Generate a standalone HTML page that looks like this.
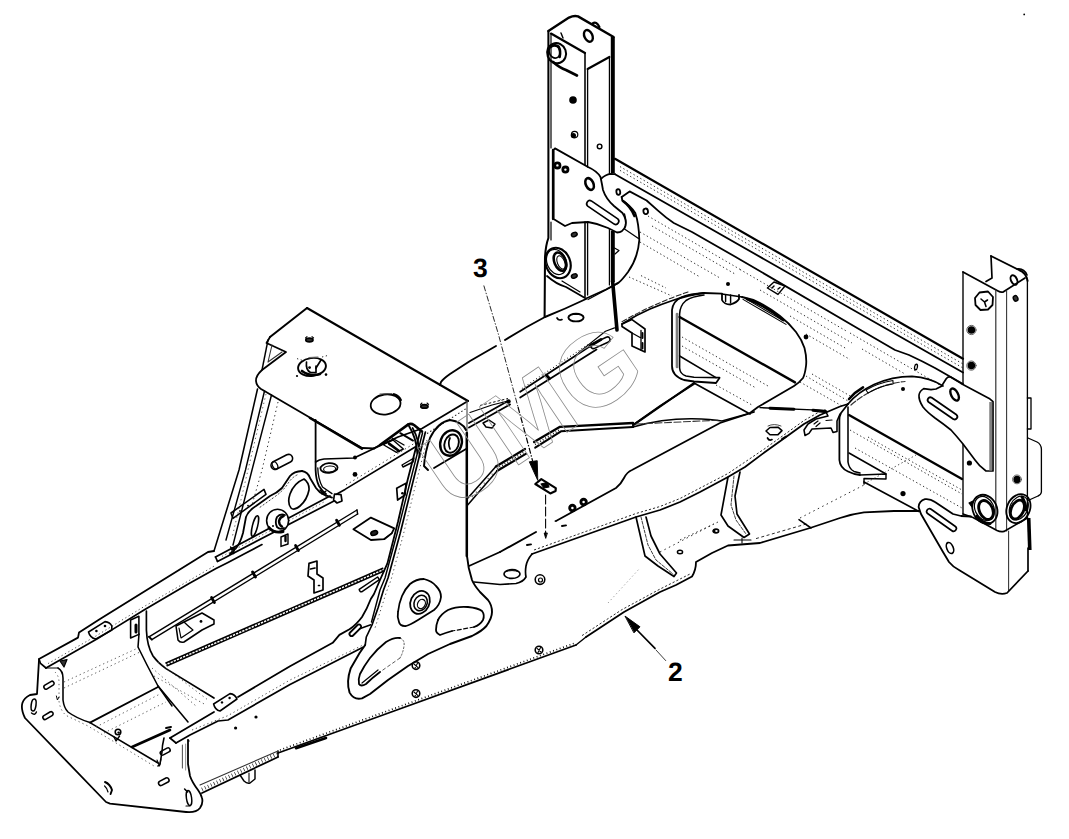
<!DOCTYPE html>
<html><head><meta charset="utf-8"><title>Frame</title>
<style>html,body{margin:0;padding:0;background:#fff;}svg{display:block;}</style></head>
<body>
<svg width="1069" height="839" viewBox="0 0 1069 839" stroke-linecap="round" stroke-linejoin="round">
<rect width="1069" height="839" fill="#fff"/>
<!-- post 1 -->
<path d="M548.4,31 L548.4,238 Q545.5,246 545,258 L544.6,317" stroke="#000" stroke-width="2.04" fill="none" />
<path d="M551,33.6 L551,148" stroke="#000" stroke-width="1.2" fill="none" />
<path d="M551,222 L551,240" stroke="#000" stroke-width="1.2" fill="none" />
<path d="M548.4,31 L569,17.6 Q574,15.2 578,16.4 L613.6,37" stroke="#000" stroke-width="2.4" fill="none" />
<path d="M612.8,37 L612.8,173" stroke="#000" stroke-width="4.0" fill="none" stroke-linecap="butt"/>
<path d="M612.8,231 L612.8,282" stroke="#000" stroke-width="4.0" fill="none" stroke-linecap="butt"/>
<path d="M609.4,57 L609.4,174" stroke="#000" stroke-width="1.2" fill="none" />
<path d="M609.4,229 L609.4,285" stroke="#000" stroke-width="1.2" fill="none" />
<path d="M551,33.6 L585,53" stroke="#000" stroke-width="2.28" fill="none" />
<path d="M585,53 L585,165" stroke="#000" stroke-width="1.56" fill="none" />
<path d="M585,222 L585,297" stroke="#000" stroke-width="1.56" fill="none" />
<path d="M587.6,69 L587.6,167" stroke="#000" stroke-width="1.32" fill="none" />
<path d="M587.6,222 L587.6,295" stroke="#000" stroke-width="1.32" fill="none" />
<path d="M587.6,69 L609.4,57" stroke="#000" stroke-width="2.16" fill="none" />
<ellipse cx="588.4" cy="35.9" rx="4.0" ry="6.2" transform="rotate(-25 588.4 35.9)" fill="none" stroke="#000" stroke-width="2.4"/>
<path d="M592.6,23.4 Q596.5,20.6 599.4,27" stroke="#000" stroke-width="2.28" fill="none" />
<ellipse cx="556.6" cy="53.2" rx="9.4" ry="10.2" transform="rotate(-20 556.6 53.2)" fill="none" stroke="#000" stroke-width="2.04"/>
<ellipse cx="554.6" cy="51.6" rx="5.4" ry="6.6" transform="rotate(-20 554.6 51.6)" fill="none" stroke="#000" stroke-width="1.68"/>
<path d="M550.6,47 Q553.6,44.4 557.6,46" stroke="#000" stroke-width="2.6" fill="none" />
<path d="M558.6,46.6 Q561,51 559.6,57" stroke="#000" stroke-width="2.64" fill="none" />
<path d="M553,62 Q560,68 566,70 L577,75.5" stroke="#000" stroke-width="2.64" fill="none" />
<path d="M561,33 L563,38" stroke="#000" stroke-width="1.44" fill="none" />
<circle cx="573" cy="100" r="3.8" fill="#000"/>
<circle cx="573.4" cy="135.6" r="2.6" fill="#000"/>
<circle cx="574.6" cy="134.6" r="3.2" fill="none" stroke="#000" stroke-width="1.2"/>
<circle cx="599.6" cy="146.4" r="2.3" fill="none" stroke="#000" stroke-width="1.44"/>
<path d="M555,148.4 L588,167 Q597,171 600.5,177 Q602,184 603,190 Q606,199 614,206 L622.5,213 Q627,220 625.5,226 Q623,232.5 617,232.5 L608,228 Q598,223.5 588,222 L572,223 L565,226 L553.6,219 L553.6,150 Z" stroke="#000" stroke-width="1.8" fill="none" />
<path d="M587.7,206.1 L614.2,224.1 A3.2,3.2 0 0 0 617.8,218.9 L591.3,200.9 A3.2,3.2 0 0 0 587.7,206.1 Z" stroke="#000" stroke-width="1.68" fill="none" />
<ellipse cx="589.6" cy="184" rx="3.8" ry="6.2" transform="rotate(-25 589.6 184)" fill="none" stroke="#000" stroke-width="2.52"/>
<circle cx="557.4" cy="165.4" r="2.6" fill="none" stroke="#000" stroke-width="2.76"/>
<circle cx="565.4" cy="169.6" r="2.6" fill="none" stroke="#000" stroke-width="2.76"/>
<path d="M553,150 L553,219" stroke="#000" stroke-width="2.28" fill="none" />
<ellipse cx="574.3" cy="234.5" rx="3" ry="2" transform="rotate(-25 574.3 234.5)" fill="#333" stroke="#000" stroke-width="1.44"/>
<ellipse cx="558" cy="263" rx="12.2" ry="15.6" transform="rotate(-22 558 263)" fill="none" stroke="#000" stroke-width="2.16"/>
<ellipse cx="556.6" cy="262" rx="9.6" ry="13" transform="rotate(-22 556.6 262)" fill="none" stroke="#000" stroke-width="1.2"/>
<ellipse cx="560" cy="261.6" rx="5.6" ry="9.6" transform="rotate(-22 560 261.6)" fill="none" stroke="#000" stroke-width="2.6"/>
<ellipse cx="561" cy="262.4" rx="3.6" ry="7" transform="rotate(-22 561 262.4)" fill="none" stroke="#000" stroke-width="1.08"/>
<ellipse cx="574.3" cy="276" rx="3" ry="2" transform="rotate(-25 574.3 276)" fill="#333" stroke="#000" stroke-width="1.44"/>
<path d="M547,276 Q556,284 566,287 L585,298" stroke="#000" stroke-width="1.8" fill="none" />
<path d="M562,281 L580,292" stroke="#000" stroke-width="1.2" fill="none" />
<path d="M601.3,178.6 Q605,174.5 611,173.8 L615,174.2" stroke="#000" stroke-width="1.68" fill="none" />
<path d="M621.7,197 L622.3,200.5 Q630,205 635.3,213 Q639,224 639.3,240 Q638,258 628,272 Q622,280 619,282.4 L606,289.5 L586,298.5" stroke="#000" stroke-width="1.8" fill="none" />
<path d="M623,201 Q631,207 634.5,216" stroke="#000" stroke-width="2.6" fill="none" />
<path d="M624.5,214 Q627,222 624.5,229 L638.5,238.5" stroke="#000" stroke-width="1.32" fill="none" />
<ellipse cx="618.3" cy="192" rx="1.9" ry="2.8" transform="rotate(-10 618.3 192)" fill="none" stroke="#000" stroke-width="1.8"/>
<ellipse cx="645.7" cy="211.3" rx="2.3" ry="2.8" transform="rotate(-10 645.7 211.3)" fill="none" stroke="#000" stroke-width="1.8"/>
<path d="M618,283.5 L588,299.5" stroke="#000" stroke-width="1.2" fill="none" />
<path d="M614.5,248 L619,250.5 L615,254" stroke="#000" stroke-width="1.2" fill="none" />
<!-- beam -->
<path d="M615,158.8 L963,358.7" stroke="#000" stroke-width="2.16" fill="none" />
<path d="M615,174.2 L963,372.5" stroke="#000" stroke-width="1.8" fill="none" />
<path d="M621.7,197 L629.6,191.4 L646.6,200.5 L658,210.7 Q666,218 673.8,223 L692,232 L734,256 L858,328.5 L895,350 L909,355 Q922,361 935,368 L963,384" stroke="#000" stroke-width="1.8" fill="none" />
<path d="M620,166.6 L963,364.0" stroke="#222" stroke-width="0.95" fill="none" stroke-dasharray="1.3 2.6" stroke-linecap="butt"/>
<path d="M620,170.4 L963,368.0" stroke="#222" stroke-width="0.95" fill="none" stroke-dasharray="1.3 2.6" stroke-linecap="butt"/>
<path d="M648,216 L742,270.5" stroke="#222" stroke-width="0.95" fill="none" stroke-dasharray="1.3 2.6" stroke-linecap="butt"/>
<path d="M652,226 L735,274" stroke="#222" stroke-width="0.95" fill="none" stroke-dasharray="1.3 2.6" stroke-linecap="butt"/>
<path d="M640,232 L720,278" stroke="#222" stroke-width="0.95" fill="none" stroke-dasharray="1.3 2.6" stroke-linecap="butt"/>
<path d="M640,242 L700,277" stroke="#222" stroke-width="0.95" fill="none" stroke-dasharray="1.3 2.6" stroke-linecap="butt"/>
<path d="M740,269.5 L848,332" stroke="#222" stroke-width="0.95" fill="none" stroke-dasharray="1.3 2.6" stroke-linecap="butt"/>
<path d="M760,290 L852,343" stroke="#222" stroke-width="0.95" fill="none" stroke-dasharray="1.3 2.6" stroke-linecap="butt"/>
<path d="M790,316 L846,348.5" stroke="#222" stroke-width="0.95" fill="none" stroke-dasharray="1.3 2.6" stroke-linecap="butt"/>
<path d="M806,334 L850,359.5" stroke="#222" stroke-width="0.95" fill="none" stroke-dasharray="1.3 2.6" stroke-linecap="butt"/>
<path d="M850,333 L940,385" stroke="#222" stroke-width="0.95" fill="none" stroke-dasharray="1.3 2.6" stroke-linecap="butt"/>
<path d="M862,349 L905,374" stroke="#222" stroke-width="0.95" fill="none" stroke-dasharray="1.3 2.6" stroke-linecap="butt"/>
<path d="M767.4,288 L774,282 L785,286 L778,294.4 Z" stroke="#000" stroke-width="1.44" fill="none" />
<path d="M772,288 L774,286 M778,289 L780,287.5" stroke="#000" stroke-width="1.44" fill="none" />
<circle cx="728" cy="284" r="2.0" fill="#000"/>
<circle cx="806" cy="337" r="2.4" fill="#000"/>
<!-- post 2 -->
<path d="M963,272 L963,384.4" stroke="#000" stroke-width="1.38" fill="none" />
<path d="M963,444.5 L963,514" stroke="#000" stroke-width="1.38" fill="none" />
<path d="M963,272 L998,291 Q1001,292.8 1003.5,291.8 L1025,278" stroke="#000" stroke-width="1.8" fill="none" />
<path d="M991,256 L1019,270 Q1026,272.5 1027.6,281" stroke="#000" stroke-width="1.92" fill="none" />
<path d="M1017,269 Q1024,268 1027,275" stroke="#000" stroke-width="1.68" fill="none" />
<path d="M991,256 L992,278 L986,281.5" stroke="#000" stroke-width="1.68" fill="none" />
<path d="M995.8,290 L995.8,529" stroke="#333" stroke-width="1.2" fill="none" />
<path d="M1006.6,291 L1006.6,531" stroke="#333" stroke-width="1.08" fill="none" />
<path d="M1008.6,531 L1008.6,591" stroke="#333" stroke-width="1.08" fill="none" />
<path d="M1027.4,280 L1027.4,518" stroke="#000" stroke-width="1.32" fill="none" />
<path d="M975,298 L979.5,292.5 L988,291.5 L993,297 L992.5,305 L988,309.5 L980.5,310 L975.5,305 Z" stroke="#000" stroke-width="1.8" fill="none" />
<path d="M981,299 L984.5,302 L987.5,300 M984.5,302 L986,306.5" stroke="#000" stroke-width="1.56" fill="none" />
<circle cx="971.4" cy="330" r="3.8" fill="#000"/>
<circle cx="971.4" cy="365.6" r="3.8" fill="#000"/>
<circle cx="971.4" cy="330" r="4.6" fill="none" stroke="#555" stroke-width="0.96"/>
<circle cx="971.4" cy="365.6" r="4.6" fill="none" stroke="#555" stroke-width="0.96"/>
<ellipse cx="1015.6" cy="298.4" rx="2.2" ry="2.8" transform="rotate(-25 1015.6 298.4)" fill="#333" stroke="#000" stroke-width="1.44"/>
<ellipse cx="1014" cy="280" rx="3" ry="5" transform="rotate(-25 1014 280)" fill="none" stroke="#000" stroke-width="1.92"/>
<path d="M1027.4,398 L1031,398 L1031,429 L1027.4,429" stroke="#000" stroke-width="1.32" fill="none" />
<path d="M1028,438 L1037,442 Q1041,444 1041.4,449 L1041.4,492 Q1041,495 1038,496 L1028,500.5" stroke="#000" stroke-width="1.32" fill="none" />
<path d="M1028.7,518 L1029.8,550" stroke="#000" stroke-width="3.6" fill="none" stroke-linecap="butt"/>
<path d="M1028,548 L1028,571" stroke="#000" stroke-width="1.68" fill="none" />
<path d="M941.5,386.2 L946.2,378.7 Q948,376.4 950.6,377 L961,383.4 L989.2,398.4 L993,401.7 L993,471 L986,471 Q979,466 975,460 Q969,452 963,444 Q957,436.6 951,430 Q943,423.6 935,418 Q927,412 923,407 Q918.5,400 919,395 Q919.6,391 923.7,388.6 L931,389.6 L936,389 Z" stroke="#000" stroke-width="1.68" fill="none" />
<path d="M990.7,402 L990.7,470.6" stroke="#808080" stroke-width="2.88" fill="none" stroke-linecap="butt"/>
<path d="M928.5,402.0 L953.5,419.2 A2.7,2.7 0 0 0 956.5,414.8 L931.5,397.6 A2.7,2.7 0 0 0 928.5,402.0 Z" stroke="#000" stroke-width="1.8" fill="none" />
<ellipse cx="954.6" cy="394.6" rx="3.4" ry="6.6" transform="rotate(-28 954.6 394.6)" fill="none" stroke="#000" stroke-width="2.4"/>
<circle cx="969.4" cy="463" r="2.6" fill="#000"/>
<circle cx="1017" cy="479.4" r="3.6" fill="#000"/>
<circle cx="1017" cy="479.4" r="4.4" fill="none" stroke="#555" stroke-width="0.96"/>
<ellipse cx="984.9" cy="509.3" rx="12" ry="15" transform="rotate(-25 984.9 509.3)" fill="none" stroke="#000" stroke-width="1.8"/>
<ellipse cx="986" cy="510" rx="6.6" ry="10" transform="rotate(-25 986 510)" fill="none" stroke="#000" stroke-width="2.88"/>
<ellipse cx="984.4" cy="508.4" rx="9.4" ry="12.4" transform="rotate(-25 984.4 508.4)" fill="none" stroke="#000" stroke-width="1.2"/>
<path d="M977,516 Q981,523 990,523.6" stroke="#000" stroke-width="2.88" fill="none" />
<ellipse cx="1018.4" cy="508.6" rx="11.4" ry="15" transform="rotate(25 1018.4 508.6)" fill="none" stroke="#000" stroke-width="1.8"/>
<ellipse cx="1017.4" cy="509.6" rx="6.2" ry="10" transform="rotate(25 1017.4 509.6)" fill="none" stroke="#000" stroke-width="2.88"/>
<ellipse cx="1018.8" cy="508" rx="8.8" ry="12.4" transform="rotate(25 1018.8 508)" fill="none" stroke="#000" stroke-width="1.2"/>
<path d="M1022,497 Q1026,503 1026,510" stroke="#000" stroke-width="2.88" fill="none" />
<path d="M969,503 L972,507 L973,501 Z" stroke="#000" stroke-width="1.2" fill="#000" />
<path d="M963,514 L973,517.5 L997,530.5 Q1000.5,532.2 1004,531.4 L1027.4,518" stroke="#000" stroke-width="1.68" fill="none" />
<path d="M971,516.5 L961,516 L953,514 L935,502 Q930,498.5 925,499.2 Q919,501 918.6,507 L921,514 L943,552 L949,562 Q953,567 959,570 L995,592 Q1001,595 1007,593 L1028,571" stroke="#000" stroke-width="1.8" fill="none" />
<path d="M927.9,513.8 L951.9,530.8 A2.8,2.8 0 0 0 955.1,526.2 L931.1,509.2 A2.8,2.8 0 0 0 927.9,513.8 Z" stroke="#000" stroke-width="1.68" fill="none" />
<ellipse cx="950" cy="548" rx="3.2" ry="5.8" transform="rotate(-22 950 548)" fill="none" stroke="#000" stroke-width="1.68"/>
<!-- right hoop -->
<path d="M849,415 L962,479" stroke="#000" stroke-width="2.4" fill="none" />
<path d="M849,453 L886,474" stroke="#000" stroke-width="1.56" fill="none" />
<path d="M860,475 L886,474 L886,479 L864,478.5 L864,484" stroke="#000" stroke-width="1.44" fill="none" />
<path d="M864,482 L919,511.5" stroke="#000" stroke-width="1.68" fill="none" />
<path d="M848,404 L841,413 Q839.4,416 839.4,420 L839.4,460 Q840,468 848,471.5 Q854,474.5 860,475" stroke="#000" stroke-width="1.8" fill="none" />
<path d="M848,407 L848,462 Q849,469 854,471.4 L860,473" stroke="#000" stroke-width="1.56" fill="none" />
<path d="M848,404 Q858,392 874,384.5 Q892,376.5 912,376.4 Q930,377.5 943,386" stroke="#000" stroke-width="1.68" fill="none" />
<path d="M851,405 Q862,395.5 876,389 Q890,383 905,381.5" stroke="#333" stroke-width="1.2" fill="none" stroke-dasharray="6 2"/>
<path d="M866,390 Q878,383 893,380.5 L893,384 Q880,386 868,393 Z" stroke="#000" stroke-width="1.08" fill="none" />
<path d="M855,448 L962,508" stroke="#222" stroke-width="0.95" fill="none" stroke-dasharray="1.3 2.6" stroke-linecap="butt"/>
<path d="M850,430 L962,494" stroke="#222" stroke-width="0.95" fill="none" stroke-dasharray="1.3 2.6" stroke-linecap="butt"/>
<path d="M868,437 L962,490" stroke="#222" stroke-width="0.95" fill="none" stroke-dasharray="1.3 2.6" stroke-linecap="butt"/>
<path d="M864,484 L916,455" stroke="#222" stroke-width="0.84" fill="none" stroke-dasharray="1.3 2.6" stroke-linecap="butt"/>
<circle cx="903" cy="389" r="2.0" fill="#000"/>
<circle cx="903" cy="493.6" r="2.6" fill="#000"/>
<ellipse cx="916" cy="367" rx="1.4" ry="2.8" transform="rotate(10 916 367)" fill="none" stroke="#000" stroke-width="1.32"/>
<!-- centre hoop -->
<path d="M704,293 Q690,294 682,297 Q673,301 672,310 L672,366 Q672,376 684,380 L694,381.5 L716,383 L719.5,378" stroke="#000" stroke-width="1.8" fill="none" />
<path d="M704,295 Q692,296.5 686,300.5 Q680,305.5 679.6,314 L679.6,368 Q680,374 686,376 L694,377.2 L719.5,377.6" stroke="#000" stroke-width="1.56" fill="none" />
<path d="M677,314 L677,367" stroke="#808080" stroke-width="2.64" fill="none" />
<path d="M704,293 L722,293.6" stroke="#000" stroke-width="1.8" fill="none" />
<path d="M722,294 L722,300 Q724,304.5 730.5,304.5 Q737,302.5 739,299 L739,295" stroke="#000" stroke-width="1.8" fill="none" />
<path d="M725.6,295 L725.6,301.5 M730.6,295 L730.6,303" stroke="#000" stroke-width="1.44" fill="none" />
<path d="M722,294 L742,297" stroke="#000" stroke-width="1.44" fill="none" />
<path d="M742,297 Q752,299 760,303 Q771,309 780,316 Q789,323 796,332 Q802,340 804.5,348 Q807,358 806,366 Q805,374 803,378 Q799,383 794,386 L770,400 L758,407 L750,413" stroke="#000" stroke-width="1.8" fill="none" />
<path d="M743,299.4 L786,324.4 M745,298.4 L784,321" stroke="#000" stroke-width="1.08" fill="none" />
<path d="M747,299 Q766,306 783,320" stroke="#000" stroke-width="2.4" fill="none" />
<path d="M679.6,317 L795,382.4" stroke="#000" stroke-width="2.4" fill="none" />
<path d="M679.6,356 L716,377.6" stroke="#000" stroke-width="1.56" fill="none" />
<path d="M694,383 L750,414" stroke="#000" stroke-width="1.68" fill="none" />
<path d="M682,337 L768,386" stroke="#222" stroke-width="0.95" fill="none" stroke-dasharray="1.3 2.6" stroke-linecap="butt"/>
<path d="M682,346 L756,388" stroke="#222" stroke-width="0.95" fill="none" stroke-dasharray="1.3 2.6" stroke-linecap="butt"/>
<path d="M716,385 L752,405" stroke="#222" stroke-width="0.95" fill="none" stroke-dasharray="1.3 2.6" stroke-linecap="butt"/>
<path d="M629,277 L672,296" stroke="#222" stroke-width="0.95" fill="none" stroke-dasharray="1.3 2.6" stroke-linecap="butt"/>
<path d="M641,275.6 L666,288" stroke="#222" stroke-width="0.95" fill="none" stroke-dasharray="1.3 2.6" stroke-linecap="butt"/>
<path d="M806,376 L848,401" stroke="#222" stroke-width="0.95" fill="none" stroke-dasharray="1.3 2.6" stroke-linecap="butt"/>
<path d="M800,382 L842,406" stroke="#222" stroke-width="0.95" fill="none" stroke-dasharray="1.3 2.6" stroke-linecap="butt"/>
<path d="M812,374 L852,397" stroke="#222" stroke-width="0.95" fill="none" stroke-dasharray="1.3 2.6" stroke-linecap="butt"/>
<path d="M694,383 L634,424.6" stroke="#000" stroke-width="2.04" fill="none" />
<path d="M704,293 Q688,295 674,300 Q662,304 650,309 Q636,315 622,324" stroke="#000" stroke-width="1.8" fill="none" />
<path d="M688,292 Q655,303 622,321.6" stroke="#222" stroke-width="1.08" fill="none" stroke-dasharray="5 2.5"/>
<path d="M622,324 L632,319.6 L645,329 L645,352 L632,346 L632,333 L622,326.5 Z" stroke="#000" stroke-width="1.68" fill="none" />
<path d="M641,330.5 L641,350 M632,333 L641,338" stroke="#000" stroke-width="1.32" fill="none" />
<path d="M642.5,333 L642.5,338 M642.5,343 L642.5,348.5" stroke="#000" stroke-width="1.92" fill="none" />
<path d="M612.6,281 L617,330" stroke="#000" stroke-width="3.6" fill="none" />
<!-- centre body -->
<path d="M586,299 Q565,309 545,317 Q524,328 505,340" stroke="#000" stroke-width="1.92" fill="none" />
<path d="M496,346 L470,361 L450,374 Q443,379 441,382 L440,385" stroke="#000" stroke-width="1.92" fill="none" />
<ellipse cx="576" cy="317.6" rx="7.6" ry="3.8" transform="rotate(0 576 317.6)" fill="none" stroke="#000" stroke-width="1.92"/>
<path d="M572,314.5 L580,314.5" stroke="#000" stroke-width="0.96" fill="none" />
<path d="M557,318 Q558.5,321 562,319.5" stroke="#000" stroke-width="1.68" fill="none" />
<path d="M520.2,391.8 L590,346.3" stroke="#000" stroke-width="1.8" fill="none" />
<path d="M520.2,397.5 L596.5,349.6" stroke="#000" stroke-width="1.8" fill="none" />
<path d="M522,388.4 L588,344.6" stroke="#000" stroke-width="1.05" fill="none" stroke-dasharray="0.8 2.6" stroke-linecap="butt"/>
<path d="M594.5,348.4 L608.5,342.0 A2.6,2.6 0 0 0 606.3,337.2 L592.3,343.6 A2.6,2.6 0 0 0 594.5,348.4 Z" stroke="#000" stroke-width="1.56" fill="none" />
<path d="M578.6,352.6 L605.5,331.2 L614.5,327.9" stroke="#000" stroke-width="1.2" fill="none" />
<path d="M590,346 L601,339.6" stroke="#000" stroke-width="2.88" fill="none" />
<path d="M546.6,375.6 L549.4,378.6" stroke="#000" stroke-width="2.88" fill="none" />
<path d="M469,423 L508,401" stroke="#000" stroke-width="1.8" fill="none" />
<path d="M469,427.5 L510,404.5" stroke="#000" stroke-width="1.8" fill="none" />
<path d="M480,405.5 L508,398.5" stroke="#000" stroke-width="0.95" fill="none" stroke-dasharray="2.5 2" stroke-linecap="butt"/>
<path d="M470,412.5 L492,405 L508,401" stroke="#000" stroke-width="1.2" fill="none" />
<circle cx="508.5" cy="401.5" r="2.2" fill="#000"/>
<path d="M483,423 L489,420 L495,424 L492,428 L486,427 Z" stroke="#000" stroke-width="1.44" fill="none" />
<path d="M467.9,498 L495.9,466.6" stroke="#000" stroke-width="1.56" fill="none" />
<path d="M467.9,504.8 L497,471" stroke="#000" stroke-width="1.56" fill="none" />
<path d="M495.9,466.6 L525,449" stroke="#000" stroke-width="2.28" fill="none" />
<path d="M497,471 L526.2,453.7" stroke="#000" stroke-width="2.04" fill="none" />
<path d="M534,442 L560,426.8 L633,423" stroke="#000" stroke-width="2.28" fill="none" />
<path d="M535.2,447.6 L561,431.3 L633,427" stroke="#000" stroke-width="2.04" fill="none" />
<path d="M497,468.6 L525.4,451.4" stroke="#000" stroke-width="1.89" fill="none" stroke-dasharray="0.8 2.2" stroke-linecap="butt"/>
<path d="M535,444.4 L560.6,429.4" stroke="#000" stroke-width="1.89" fill="none" stroke-dasharray="0.8 2.2" stroke-linecap="butt"/>
<path d="M472,497 L494,472" stroke="#555" stroke-width="1.26" fill="none" stroke-dasharray="1 5" stroke-linecap="butt"/>
<path d="M633,423 L633,427" stroke="#000" stroke-width="1.68" fill="none" />
<path d="M633,425 L660,406 L694,384" stroke="#000" stroke-width="1.92" fill="none" />
<path d="M633,427 Q662,418.6 692,418.8 Q712,419.4 722,421 L748,413.8" stroke="#000" stroke-width="1.44" fill="none" />
<path d="M636,424 L718,420.2" stroke="#333" stroke-width="1.08" fill="none" stroke-dasharray="7 2.5"/>
<path d="M556,521 L616,488 Q621,484 624,478 Q627,472 632,470 L720,423 L754,412" stroke="#000" stroke-width="1.8" fill="none" />
<path d="M500,552 L536,532" stroke="#000" stroke-width="1.92" fill="none" />
<path d="M760,407.6 L824,410.4" stroke="#000" stroke-width="1.44" fill="none" />
<path d="M770,408.2 L794,409.2" stroke="#000" stroke-width="2.88" fill="none" />
<path d="M813,410.2 L826,411.8" stroke="#000" stroke-width="3.0" fill="none" />
<path d="M532,554 L636,517 L660,510 L680,502 L700,492 L728,477 L745,467 L765,452 L786,437 L804,424 L820,415 L840,406.5 L848,404" stroke="#000" stroke-width="1.8" fill="none" />
<path d="M534,550 L636,513.5 L660,506.5 L680,498.5 L728,473.5 L765,448.5 L786,433.5 L804,420.5 L820,411.5" stroke="#222" stroke-width="0.95" fill="none" stroke-dasharray="2.2 2" stroke-linecap="butt"/>
<path d="M636,517 L645,556 L658,566 L674,576.5 L676.5,573 L660,554 L651,536 L646,517" stroke="#000" stroke-width="1.68" fill="none" />
<path d="M641,517 L648,545 L656,560 L673,574" stroke="#333" stroke-width="0.96" fill="none" stroke-dasharray="3 1.5"/>
<path d="M728,477 L721,515 L728,526 L744,537.5 L749.5,534 L737,514 L735,496 L740,472" stroke="#000" stroke-width="1.68" fill="none" />
<path d="M734,476 L731,505 L736,520 L746,534" stroke="#333" stroke-width="0.96" fill="none" stroke-dasharray="3 1.5"/>
<path d="M586,637 L624,612 L660,592 L676,585 L692,576.5 Q696,570 696,562 L712,553 L728,545.5 L760,543 L810,528 L840,518 Q852,514 864,512.4 L894,511 L919,511" stroke="#000" stroke-width="1.8" fill="none" />
<path d="M582,635.6 L622,609.6 L659,589.6 L690,574" stroke="#222" stroke-width="0.95" fill="none" stroke-dasharray="2.2 2" stroke-linecap="butt"/>
<path d="M680,540 L718,522" stroke="#222" stroke-width="0.95" fill="none" stroke-dasharray="1.5 3" stroke-linecap="butt"/>
<path d="M756,538.6 L808,523.5" stroke="#222" stroke-width="0.95" fill="none" stroke-dasharray="3 2.5" stroke-linecap="butt"/>
<path d="M800,518 L864,485" stroke="#222" stroke-width="0.95" fill="none" stroke-dasharray="1.5 3.5" stroke-linecap="butt"/>
<path d="M799,519.6 L811,528" stroke="#000" stroke-width="1.56" fill="none" />
<path d="M660,552 L714,524" stroke="#222" stroke-width="0.95" fill="none" stroke-dasharray="1.5 3.5" stroke-linecap="butt"/>
<path d="M608,603 L640,568" stroke="#555" stroke-width="0.73" fill="none" stroke-dasharray="1 3" stroke-linecap="butt"/>
<ellipse cx="680" cy="552" rx="2.6" ry="1.8" transform="rotate(0 680 552)" fill="none" stroke="#000" stroke-width="1.44"/>
<ellipse cx="716" cy="531" rx="2.6" ry="1.8" transform="rotate(0 716 531)" fill="none" stroke="#000" stroke-width="1.68"/>
<circle cx="714" cy="531" r="1.6" fill="#000"/>
<path d="M734,540 L751,540 M742,538 L742,543" stroke="#000" stroke-width="1.08" fill="none" />
<path d="M469,566 L500,552" stroke="#000" stroke-width="1.68" fill="none" />
<path d="M532,554 Q527,560 526,566 Q525,572 526,577 Q523,582 516,583.5 L500,584.5 L474,582" stroke="#000" stroke-width="1.68" fill="none" />
<ellipse cx="512" cy="574" rx="8" ry="4.4" transform="rotate(0 512 574)" fill="none" stroke="#000" stroke-width="1.68"/>
<path d="M505,572 Q512,569 519,572" stroke="#000" stroke-width="0.96" fill="none" />
<circle cx="540" cy="579.6" r="4.8" fill="none" stroke="#000" stroke-width="1.56"/>
<circle cx="540.5" cy="580" r="2" fill="none" stroke="#000" stroke-width="1.2"/>
<circle cx="572.4" cy="508" r="2.7" fill="none" stroke="#000" stroke-width="2.88"/>
<circle cx="583.6" cy="502" r="2.7" fill="none" stroke="#000" stroke-width="2.88"/>
<path d="M555,521 L556,521" stroke="#000" stroke-width="1.2" fill="none" />
<path d="M562,526 L566,525.4 M527,545 L531,544.4" stroke="#000" stroke-width="1.92" fill="none" />
<path d="M766,431 L770,427.5 L778,427.2 L782,430.6 L778,434.6 L770,434.8 Z" stroke="#000" stroke-width="1.56" fill="none" />
<path d="M768,426 Q774,423 781,426" stroke="#444" stroke-width="0.96" fill="none" />
<path d="M767.5,438 Q769,441 772,439.6" stroke="#000" stroke-width="1.68" fill="none" />
<path d="M782,439 L786,436.6" stroke="#000" stroke-width="1.92" fill="none" />
<path d="M825,410 L828,416 L816,419 L808,424 L804,430 L805,435.5 L809,433.4 L812,429 L831,428 L833,432.4 L837,431.4 L837,421 L840,414" stroke="#000" stroke-width="1.56" fill="none" />
<path d="M826,420.5 L832,420" stroke="#000" stroke-width="1.2" fill="none" />
<path d="M814,424 L818,421 M816,426.5 L820,423" stroke="#000" stroke-width="1.2" fill="none" />
<path d="M849,399 Q855,392 863,387.4" stroke="#000" stroke-width="2.6" fill="none" />
<!-- left box -->
<path d="M307,308 L468,401" stroke="#000" stroke-width="2.04" fill="none" />
<path d="M307,308 L270,337" stroke="#000" stroke-width="2.04" fill="none" />
<path d="M270,337 L266.5,343 L286,352 L262,370 Q255.5,376 256,381 Q256.5,386 261,389 L362,448 L374,448.4" stroke="#000" stroke-width="1.8" fill="none" />
<path d="M374,448.4 L398,437 L422,428.5 L468,401" stroke="#000" stroke-width="1.8" fill="none" />
<path d="M268,340 L262,370" stroke="#000" stroke-width="1.44" fill="none" />
<path d="M272,345 L268,362 L282,352" stroke="#333" stroke-width="1.08" fill="none" />
<path d="M310,418 L362,448.6" stroke="#000" stroke-width="2.6" fill="none" />
<path d="M427,433.6 L467,408" stroke="#111" stroke-width="1.05" fill="none" stroke-dasharray="1.5 2.2" stroke-linecap="butt"/>
<path d="M315.6,420 L315.6,470 Q316,480 319,486 Q322,491 326,494" stroke="#000" stroke-width="1.8" fill="none" />
<ellipse cx="309.4" cy="340" rx="3.6" ry="1.8" transform="rotate(0 309.4 340)" fill="#333" stroke="#000" stroke-width="1.68"/>
<ellipse cx="424.4" cy="406.4" rx="3.6" ry="1.8" transform="rotate(0 424.4 406.4)" fill="#333" stroke="#000" stroke-width="1.68"/>
<path d="M305.5,338 L307,336.6 M312,336.6 L313.6,338" stroke="#000" stroke-width="1.08" fill="none" />
<path d="M420.5,404.4 L422,403 M427,403 L428.6,404.4" stroke="#000" stroke-width="1.08" fill="none" />
<ellipse cx="385.6" cy="404.4" rx="15" ry="10" transform="rotate(-8 385.6 404.4)" fill="none" stroke="#000" stroke-width="1.8"/>
<path d="M380,394 L392,393.6" stroke="#555" stroke-width="0.96" fill="none" />
<path d="M394,394.4 Q399,396 400.6,400" stroke="#000" stroke-width="2.64" fill="none" />
<ellipse cx="312" cy="367" rx="14" ry="9" transform="rotate(-8 312 367)" fill="none" stroke="#000" stroke-width="1.92"/>
<path d="M302,371 Q310,377 320,374" stroke="#000" stroke-width="2.64" fill="none" />
<path d="M306.5,362 Q305.5,370 310.5,372.4 L316,372.6 L316,366" stroke="#000" stroke-width="1.68" fill="none" />
<path d="M316,368 L321,360" stroke="#000" stroke-width="1.68" fill="none" />
<circle cx="309.6" cy="367.6" r="1.4" fill="#000"/>
<path d="M309,357.6 L318,357" stroke="#666" stroke-width="1.2" fill="none" />
<path d="M297,358.6 L303,360.6" stroke="#222" stroke-width="0.95" fill="none" stroke-dasharray="1.3 2.6" stroke-linecap="butt"/>
<path d="M322,357 L328,355.4" stroke="#222" stroke-width="0.95" fill="none" stroke-dasharray="1.3 2.6" stroke-linecap="butt"/>
<circle cx="297" cy="376" r="1.1" fill="#000"/>
<circle cx="326" cy="374.6" r="1.3" fill="#000"/>
<path d="M257.5,389 L239,470 L214,551" stroke="#000" stroke-width="1.56" fill="none" />
<path d="M264.5,391 L245.5,470 L226,540" stroke="#000" stroke-width="1.44" fill="none" />
<path d="M271.5,395 L252,470 L233,545" stroke="#000" stroke-width="1.44" fill="none" />
<path d="M278,402 L262,470 L252,505" stroke="#222" stroke-width="0.95" fill="none" stroke-dasharray="1.3 3.2" stroke-linecap="butt"/>
<path d="M266,394 L248,470 L232,538" stroke="#444" stroke-width="0.84" fill="none" stroke-dasharray="1.3 3.2" stroke-linecap="butt"/>
<path d="M467,401 L467,433" stroke="#555" stroke-width="1.2" fill="none" />
<path d="M466.8,433 L466.8,556" stroke="#000" stroke-width="2.52" fill="none" />
<path d="M315.6,462 Q319,459.6 324,459 L354,458 L374,448.4" stroke="#000" stroke-width="1.68" fill="none" />
<path d="M336,494.4 L345,489.4 L415.6,446.7" stroke="#000" stroke-width="1.68" fill="none" />
<path d="M317.8,468 Q318,479 322.5,487 L332,493.6" stroke="#000" stroke-width="1.32" fill="none" />
<ellipse cx="329" cy="468" rx="8.6" ry="4.8" transform="rotate(-5 329 468)" fill="none" stroke="#000" stroke-width="1.8"/>
<ellipse cx="329.6" cy="469" rx="6" ry="3" transform="rotate(-5 329.6 469)" fill="none" stroke="#000" stroke-width="1.08"/>
<circle cx="355" cy="457.4" r="2.0" fill="#000"/>
<circle cx="355" cy="474.4" r="2.4" fill="#000"/>
<path d="M346,485 L414,443.6" stroke="#222" stroke-width="0.95" fill="none" stroke-dasharray="1.3 3" stroke-linecap="butt"/>
<path d="M276.8,469.0 L290.4,462.0 A4.0,4.0 0 0 0 286.8,454.8 L273.2,461.8 A4.0,4.0 0 0 0 276.8,469.0 Z" stroke="#000" stroke-width="1.56" fill="none" />
<ellipse cx="275" cy="465.4" rx="2.4" ry="4" transform="rotate(-27 275 465.4)" fill="none" stroke="#000" stroke-width="1.32"/>
<path d="M302,471 Q308,472 310,478 L316,488 Q319,492.5 324,494.6 L332,497.6" stroke="#000" stroke-width="1.8" fill="none" />
<path d="M302,471 Q294,471.4 290,476 L282,488 Q277,493 270,496 L256,506 Q248,511 246,517 L243,533 Q240,544 236,548 L230,554" stroke="#000" stroke-width="1.8" fill="none" />
<path d="M297,475 Q291,478 287,485 Q282,492 273,498 L259,508" stroke="#333" stroke-width="0.96" fill="none" stroke-dasharray="1.3 2.4"/>
<path d="M304,479 Q309.5,483 309,490 Q307,500 300,506 Q294,511 291,508 Q287,503 290,494 Q294,483 304,479 Z" stroke="#000" stroke-width="1.68" fill="none" />
<ellipse cx="255" cy="526" rx="2.6" ry="10.6" transform="rotate(14 255 526)" fill="none" stroke="#000" stroke-width="1.56"/>
<path d="M215.5,557 L330,496" stroke="#000" stroke-width="1.68" fill="none" />
<path d="M217.5,561.4 L334,501" stroke="#000" stroke-width="1.68" fill="none" />
<path d="M215.5,557 L217.5,561.4" stroke="#000" stroke-width="1.68" fill="none" />
<path d="M230.6,547 L233.6,553.6 L234.4,548" stroke="#000" stroke-width="1.44" fill="#000" />
<path d="M222,556.4 L325,501.4" stroke="#333" stroke-width="0.84" fill="none" stroke-dasharray="1.2 2.6" stroke-linecap="butt"/>
<path d="M334.5,494 L341,494.6 L342,501 L337,503 L333.6,500 Z" stroke="#000" stroke-width="1.68" fill="none" />
<path d="M320,490 L326,496" stroke="#000" stroke-width="1.32" fill="none" />
<path d="M322,494 L326,491" stroke="#000" stroke-width="1.32" fill="none" />
<ellipse cx="277.6" cy="520.6" rx="11" ry="11.4" transform="rotate(0 277.6 520.6)" fill="#fff" stroke="#000" stroke-width="1.56"/>
<path d="M269,527.6 Q274,533.6 283,531.6" stroke="#000" stroke-width="2.88" fill="none" />
<path d="M285,515 Q280,513.4 277,517 Q274.6,522 277,527 Q280,530 284,528" stroke="#000" stroke-width="1.8" fill="none" />
<path d="M283.6,516 Q280,517 279,521 Q279,525 282,526.6" stroke="#000" stroke-width="2.4" fill="none" />
<circle cx="273" cy="526" r="1.0" fill="#000"/>
<path d="M231,513 L264,489.4 L266,494.4 L233,518.4 Z" stroke="#000" stroke-width="1.56" fill="none" />
<circle cx="240" cy="511" r="0.9" fill="#000"/>
<circle cx="248" cy="505.6" r="0.9" fill="#000"/>
<path d="M149,636.8 L357,510" stroke="#000" stroke-width="1.44" fill="none" />
<path d="M151.8,639.6 L357.6,514" stroke="#000" stroke-width="1.44" fill="none" />
<path d="M357,510 L357.6,514" stroke="#000" stroke-width="1.44" fill="none" />
<path d="M149,636.8 L151.8,639.6" stroke="#000" stroke-width="1.92" fill="none" />
<path d="M336.6,520.2 L339.4,525.2" stroke="#000" stroke-width="2.88" fill="none" />
<path d="M295.6,545.6 L298.4,550.6" stroke="#000" stroke-width="2.88" fill="none" />
<path d="M252.6,572.0 L255.4,577.0" stroke="#000" stroke-width="2.88" fill="none" />
<path d="M211.6,597.6 L214.4,602.6" stroke="#000" stroke-width="2.88" fill="none" />
<path d="M281,537 L288,534 L288,544 L281,546.4 Z" stroke="#000" stroke-width="1.44" fill="none" />
<path d="M285.5,536.5 L285.5,541" stroke="#000" stroke-width="2.4" fill="none" />
<path d="M353.4,529.2 L370.9,517.6 L394.2,528.4 L391.7,533.4 L384.2,539.2 L370.9,540 Z" stroke="#000" stroke-width="1.8" fill="none" />
<ellipse cx="374.2" cy="533" rx="3.4" ry="2.2" transform="rotate(-20 374.2 533)" fill="#222" stroke="#000" stroke-width="1.68"/>
<path d="M384,539 L392,533" stroke="#000" stroke-width="1.2" fill="none" />
<path d="M309,563.4 L317,561 L317,574 L323,578 L323,590 L314,593 L314,580 L308,576 Z" stroke="#000" stroke-width="1.68" fill="none" />
<path d="M310.5,569 L315,568 M318.5,585.5 L319.5,585.5" stroke="#000" stroke-width="1.68" fill="none" />
<path d="M396.7,488.3 L406,483.3 L405,495 L397.6,500 Z" stroke="#000" stroke-width="1.68" fill="none" />
<circle cx="402.4" cy="493.2" r="1.3" fill="#000"/>
<path d="M402,465 L414,458 L413,462 L403,467 Z" stroke="#000" stroke-width="1.44" fill="none" />
<path d="M383,444.5 L393,440 L403.3,449 L396.5,452.3 Z" stroke="#000" stroke-width="1.44" fill="none" />
<path d="M389,443.6 L399,451" stroke="#000" stroke-width="2.64" fill="none" />
<path d="M380,445 L408,424.6" stroke="#000" stroke-width="2.64" fill="none" />
<path d="M408,424.6 Q411,423 414,425 L422,431.6" stroke="#000" stroke-width="2.6" fill="none" />
<path d="M400.3,433.2 L413,440.6" stroke="#000" stroke-width="1.92" fill="none" />
<path d="M392,438 L404,445" stroke="#000" stroke-width="1.44" fill="none" />
<path d="M409,426 Q416,437 417.4,453" stroke="#000" stroke-width="1.92" fill="none" />
<path d="M412.6,428 Q419.6,440 419.6,457" stroke="#000" stroke-width="1.68" fill="none" />
<path d="M374,448.6 L380,445" stroke="#000" stroke-width="1.8" fill="none" />
<path d="M420,432 L407.6,480 L398,521.7 L387.4,563.4 L380,580 L374,594 L370.8,599 Q367,609 362,617 Q356,625 349.5,629.3 L339.4,634.9 L332.7,642.8 L290,666.3 L238,697" stroke="#000" stroke-width="1.8" fill="none" />
<path d="M422.5,433 L410.6,480 L397,534 L385,578 L380,590 L371.5,622" stroke="#000" stroke-width="1.44" fill="none" />
<path d="M425.4,432 L413.4,480 L400,534 L388,578 L383.5,590 L378,608 L372,625 L366.3,637 L365.2,645" stroke="#000" stroke-width="1.68" fill="none" />
<path d="M427,440 L416,483 L403,536 L391,580 L386.4,592 L375,628" stroke="#333" stroke-width="0.84" fill="none" stroke-dasharray="1.3 3" stroke-linecap="butt"/>
<path d="M466,430 Q462,421.6 450,420 Q438,422 430,438 Q425,452 424,466 L428,470" stroke="#000" stroke-width="1.92" fill="none" />
<path d="M434,468 L466,449" stroke="#000" stroke-width="1.8" fill="none" />
<ellipse cx="451" cy="443" rx="10.6" ry="13" transform="rotate(20 451 443)" fill="none" stroke="#000" stroke-width="2.4"/>
<ellipse cx="451.6" cy="443.6" rx="7" ry="9.4" transform="rotate(20 451.6 443.6)" fill="none" stroke="#000" stroke-width="1.92"/>
<path d="M450,438 Q447.5,443 450,449" stroke="#000" stroke-width="1.68" fill="none" />
<path d="M365.2,645 L359.6,653 L350.6,668.6 Q346,682 349.6,692.6 Q354,700.4 362,698.4 L370,694 L388,680 L408,666 L428,654 L450,644 L472,636 Q482,631 486.4,626 Q492,618 492,612 Q492,605 488,600 L480,592 Q474,585 472,580 Q468,568 467,556" stroke="#000" stroke-width="1.92" fill="none" />
<path d="M424,579 Q432,581 436,586 Q441,591 441,597 Q440,605 434,610 L418,620 Q410,625 406,626 Q400,626.4 399,622 Q397,617 398,612 Q399,603 402,596 Q405,589 410,584 Q416,579 424,579 Z" stroke="#000" stroke-width="1.8" fill="none" />
<ellipse cx="420" cy="602.4" rx="9.4" ry="11.8" transform="rotate(25 420 602.4)" fill="none" stroke="#000" stroke-width="1.8"/>
<ellipse cx="420.6" cy="603" rx="6.4" ry="8" transform="rotate(25 420.6 603)" fill="none" stroke="#000" stroke-width="1.56"/>
<ellipse cx="421.4" cy="604" rx="3.8" ry="4.8" transform="rotate(25 421.4 604)" fill="none" stroke="#000" stroke-width="1.2"/>
<path d="M438,620 Q441,614 448,610 Q457,606 468,607 Q478,608 482,611 Q485,615 483,620 Q480,625 474,627" stroke="#000" stroke-width="1.8" fill="none" />
<path d="M474,627 L452,631" stroke="#000" stroke-width="1.2" fill="none" stroke-dasharray="4 2.5"/>
<path d="M452,631 Q445,633 440,635 Q436,633 436,630 Q436,625 438,620" stroke="#000" stroke-width="1.8" fill="none" />
<path d="M400,638 Q405,640 404,646 Q403,653 400,658" stroke="#555" stroke-width="0.96" fill="none" stroke-dasharray="1.5 2"/>
<path d="M400,658 L380,672" stroke="#555" stroke-width="0.96" fill="none" stroke-dasharray="3 3"/>
<path d="M380,672 Q372,678 366,684 Q361,687 359,684 Q358,679 360,674 Q364,666 370,658 Q377,649 386,642 Q394,637 400,638" stroke="#000" stroke-width="1.8" fill="none" />
<path d="M362,683 L378,670" stroke="#000" stroke-width="1.2" fill="none" />
<circle cx="416" cy="665.6" r="3.8" fill="none" stroke="#000" stroke-width="1.56"/>
<path d="M414,664 L418,667.6 M417.6,663 L415,668" stroke="#000" stroke-width="1.08" fill="none" />
<circle cx="416" cy="693.6" r="3.8" fill="none" stroke="#000" stroke-width="1.56"/>
<path d="M414,692 L418,695.6 M417.6,691 L415,696" stroke="#000" stroke-width="1.08" fill="none" />
<circle cx="539" cy="650" r="3.8" fill="none" stroke="#000" stroke-width="1.56"/>
<path d="M537,648.4 L541,652 M540.6,647.6 L538,652.6" stroke="#000" stroke-width="1.08" fill="none" />
<path d="M278,753 L394,711 L576,645" stroke="#000" stroke-width="1.8" fill="none" />
<path d="M280,750 L394,708.6 L574,643.4" stroke="#000" stroke-width="1.68" fill="none" stroke-dasharray="0.9 2.6" stroke-linecap="butt"/>
<path d="M576,645 L586,637" stroke="#000" stroke-width="1.44" fill="none" />
<path d="M167.1,665.8 L384.0,571.0" stroke="#000" stroke-width="1.5" fill="none" />
<path d="M165.9,663.0 L382.8,568.2" stroke="#000" stroke-width="1.5" fill="none" />
<path d="M166.5,664.4 L383.4,569.6" stroke="#000" stroke-width="2.4" fill="none" stroke-dasharray="1.1 2.3" stroke-linecap="butt"/>
<path d="M359.2,589.3 L377.6,577 L379.4,579.6 L361.7,591.8 Q359.6,592 359.2,589.3 Z" stroke="#000" stroke-width="1.44" fill="none" />
<path d="M353.1,635.5 L360.5,628.1 A2.1,2.1 0 0 0 357.5,625.1 L350.1,632.5 A2.1,2.1 0 0 0 353.1,635.5 Z" stroke="#000" stroke-width="1.8" fill="none" />
<path d="M359.6,628.7 L370.8,624.8" stroke="#000" stroke-width="1.44" fill="none" />
<!-- front-left -->
<path d="M39,659 L78,637.6 L79,632.6 L100,619 L208,552 L214,551" stroke="#000" stroke-width="1.8" fill="none" />
<path d="M46,668 L96,639.6 L144,610 L190,583 L216,568.6 L228,562.4 L245,553.4 L262,544.6" stroke="#000" stroke-width="1.68" fill="none" />
<path d="M39,659 L40.5,663.4 L46,668" stroke="#000" stroke-width="1.68" fill="none" />
<path d="M48,663.6 L96,636 L144,606.6 L216,565" stroke="#333" stroke-width="0.84" fill="none" stroke-dasharray="1.3 2.6" stroke-linecap="butt"/>
<path d="M88.5,632 L105,621.6 Q110,622 111.8,626 L111.8,630 L96,639 Q90,638 88.5,632 Z" stroke="#000" stroke-width="1.56" fill="none" />
<circle cx="96.4" cy="631" r="1.3" fill="#000"/>
<circle cx="105" cy="626" r="1.3" fill="#000"/>
<path d="M39,660 L37,694 L30,695 Q24,698 22.4,703 Q20.6,709 25,718 L106,802 L110,803.6 L186,812 Q196,813 200,808 Q203.4,803 202,798 Q201,794 198,790 Q192,782 190,776 L188,764 L188,740" stroke="#000" stroke-width="1.8" fill="none" />
<path d="M58,668 Q63,671 63,678 L63,700 Q64,708 68,712 Q76,718 90,722.6 L158,763" stroke="#000" stroke-width="1.56" fill="none" />
<path d="M55,672 Q59,676 59,682 L59,701 Q60,710 66,715.4 L88,726 L154,766" stroke="#444" stroke-width="0.84" fill="none" stroke-dasharray="1.3 3" stroke-linecap="butt"/>
<path d="M46,668 L58,668" stroke="#000" stroke-width="1.2" fill="none" />
<path d="M60,661 L64,667 L67,659.6 Z" stroke="#000" stroke-width="1.2" fill="#333" />
<path d="M47.1,688.8 L53.1,685.2 A2.1,2.1 0 0 0 50.9,681.6 L44.9,685.2 A2.1,2.1 0 0 0 47.1,688.8 Z" stroke="#000" stroke-width="1.56" fill="none" />
<path d="M46.1,719.2 L52.1,715.6 A2.1,2.1 0 0 0 49.9,712.0 L43.9,715.6 A2.1,2.1 0 0 0 46.1,719.2 Z" stroke="#000" stroke-width="1.56" fill="none" />
<ellipse cx="33.6" cy="705" rx="2.4" ry="6" transform="rotate(8 33.6 705)" fill="none" stroke="#000" stroke-width="1.56"/>
<path d="M31.5,713 Q35,716 36.4,712" stroke="#000" stroke-width="1.44" fill="none" />
<path d="M56.4,696 L57.4,700 L59,697" stroke="#000" stroke-width="0.96" fill="none" />
<path d="M139,634 L138,647 L147,665 L158,686 L188,722" stroke="#000" stroke-width="1.56" fill="none" />
<path d="M146.4,611 L146.4,630 Q147,646 153,656 Q158,663 166,668.6 L214,698" stroke="#000" stroke-width="1.68" fill="none" />
<path d="M130.6,620 L138.9,616.3 L138.9,634.4 L130.6,638 Z" stroke="#000" stroke-width="1.56" fill="none" />
<path d="M136,625 L136,632" stroke="#000" stroke-width="3.0" fill="none" />
<path d="M64,682 L138,648" stroke="#444" stroke-width="0.84" fill="none" stroke-dasharray="1.3 3" stroke-linecap="butt"/>
<path d="M64,688 L140,652" stroke="#444" stroke-width="0.84" fill="none" stroke-dasharray="1.3 3" stroke-linecap="butt"/>
<path d="M158,662 L208,700" stroke="#444" stroke-width="0.84" fill="none" stroke-dasharray="1.3 3" stroke-linecap="butt"/>
<path d="M152,668 L196,706" stroke="#444" stroke-width="0.84" fill="none" stroke-dasharray="1.3 3" stroke-linecap="butt"/>
<path d="M90,722.6 L158,687" stroke="#000" stroke-width="1.8" fill="none" />
<path d="M132,747 L170,730" stroke="#000" stroke-width="2.64" fill="none" />
<path d="M96,727 L160,694" stroke="#444" stroke-width="0.84" fill="none" stroke-dasharray="1.3 3" stroke-linecap="butt"/>
<path d="M104,733 L166,702" stroke="#444" stroke-width="0.84" fill="none" stroke-dasharray="1.3 3" stroke-linecap="butt"/>
<circle cx="118" cy="732" r="2.8" fill="none" stroke="#000" stroke-width="1.56"/>
<path d="M114,737 L116,741 L119.6,736" stroke="#000" stroke-width="1.32" fill="none" />
<circle cx="118.6" cy="732.6" r="1.2" fill="#000"/>
<path d="M158,686 L172,706" stroke="#000" stroke-width="1.44" fill="none" />
<path d="M166,728 L171,727" stroke="#000" stroke-width="1.92" fill="none" />
<path d="M170,738 L214,712" stroke="#000" stroke-width="1.8" fill="none" />
<path d="M176,743 L190,735 L218,721 L228,720 L290,684.4 L363,647.3" stroke="#000" stroke-width="1.68" fill="none" />
<path d="M170,738 L176,743" stroke="#000" stroke-width="1.68" fill="none" />
<path d="M192,730 L228,715.6 L290,680 L364,644.6" stroke="#333" stroke-width="0.84" fill="none" stroke-dasharray="1.3 2.8" stroke-linecap="butt"/>
<path d="M213.6,704 L230,693.6 Q235,694 237,699 L220,711 Q215,710 213.6,704 Z" stroke="#000" stroke-width="1.56" fill="none" />
<circle cx="222" cy="702.4" r="1.2" fill="#000"/>
<circle cx="229.6" cy="698" r="1.2" fill="#000"/>
<path d="M154,676 L206,705" stroke="#444" stroke-width="0.84" fill="none" stroke-dasharray="1.3 3" stroke-linecap="butt"/>
<circle cx="256" cy="717" r="1.6" fill="#000"/>
<circle cx="235.6" cy="728" r="1.6" fill="#000"/>
<path d="M164,738 Q162,746 162,752 L160,764 L158,766" stroke="#000" stroke-width="1.56" fill="none" />
<path d="M188,740 L189,741" stroke="#000" stroke-width="1.2" fill="none" />
<path d="M182.4,745 L182.4,768" stroke="#555" stroke-width="1.08" fill="none" />
<path d="M185.6,744 L185.6,770" stroke="#999" stroke-width="1.08" fill="none" />
<path d="M163.4,754.9 L169.0,751.9 A2.1,2.1 0 0 0 167.0,748.1 L161.4,751.1 A2.1,2.1 0 0 0 163.4,754.9 Z" stroke="#000" stroke-width="1.56" fill="none" />
<path d="M161.7,785.4 L168.1,782.0 A2.3,2.3 0 0 0 165.9,778.0 L159.5,781.4 A2.3,2.3 0 0 0 161.7,785.4 Z" stroke="#000" stroke-width="1.56" fill="none" />
<path d="M105,782 Q110,784 112,790 L110.6,794" stroke="#000" stroke-width="1.92" fill="none" />
<path d="M104.6,786 Q107,788 108,792" stroke="#000" stroke-width="1.2" fill="none" />
<ellipse cx="189" cy="798" rx="2.6" ry="7.6" transform="rotate(-8 189 798)" fill="none" stroke="#000" stroke-width="1.44"/>
<path d="M184.6,789 L187.6,792" stroke="#000" stroke-width="1.56" fill="none" />
<path d="M186,806 L190,806" stroke="#000" stroke-width="1.08" fill="none" />
<path d="M157,760 L159.6,766 L161,759" stroke="#000" stroke-width="1.08" fill="none" />
<path d="M202,793 L278,757" stroke="#000" stroke-width="1.8" fill="none" />
<path d="M278,757 L278,751" stroke="#000" stroke-width="1.56" fill="none" />
<path d="M200,785 L278,751" stroke="#333" stroke-width="1.08" fill="none" />
<path d="M202,789.4 L277,754" stroke="#222" stroke-width="3.6" fill="none" stroke-dasharray="0.7 2.6" stroke-linecap="butt"/>
<path d="M296,748.2 L326,738" stroke="#000" stroke-width="2.64" fill="none" />
<path d="M240,775 L244,781 Q247,784 250,783 L255,779 L255,770" stroke="#000" stroke-width="1.44" fill="none" />
<path d="M249,773 L249,782" stroke="#000" stroke-width="1.08" fill="none" />
<path d="M176,626 L178,640 Q180,643 184,642 L202,630 L214,624 L214,620 L202,613 L184,622 Z" stroke="#000" stroke-width="1.56" fill="none" />
<circle cx="201" cy="621.4" r="1.4" fill="#000"/>
<path d="M179,628 L181,638 L193,630 Q188,626 184,622" stroke="#000" stroke-width="1.2" fill="none" />
<!-- labels -->
<text x="473" y="276.6" font-family="Liberation Sans, sans-serif" font-weight="bold" font-size="26.5" fill="#000" text-rendering="geometricPrecision" >3</text>
<text x="668" y="681.4" font-family="Liberation Sans, sans-serif" font-weight="bold" font-size="26.5" fill="#000" text-rendering="geometricPrecision" >2</text>
<path d="M483.8,285.5 L498.4,334.2 L518,407" stroke="#000" stroke-width="0.84" fill="none" stroke-dasharray="6 1.6 1.4 1.6" stroke-linecap="butt"/>
<path d="M518,407 L527,440 L532.6,461" stroke="#000" stroke-width="1.2" fill="none" stroke-dasharray="6 1.6 1.4 1.6" stroke-linecap="butt"/>
<path d="M537.6,480 L529.3,461.8 L536.9,460.8 Z" stroke="#000" stroke-width="0.96" fill="#000" />
<path d="M535.3,484 L541.3,479.2 L555.8,488.2 L555.6,491 L550.3,493.4 Z" stroke="#000" stroke-width="2.16" fill="none" />
<path d="M541,484 L547,482.4 L549,487 L544,488 Z" stroke="#000" stroke-width="1.08" fill="#000" />
<path d="M545.6,495 L545.6,533" stroke="#000" stroke-width="1.08" fill="none" stroke-dasharray="9 3"/>
<path d="M545.6,538 L544.2,533 L547,533 Z" stroke="#000" stroke-width="0.96" fill="#000" />
<path d="M636,629 L655,648.4" stroke="#000" stroke-width="1.68" fill="none" />
<path d="M656,650 L665.7,660.6" stroke="#333" stroke-width="0.96" fill="none" />
<path d="M625.3,616.3 L640,626.8 L634.2,632.6 Z" stroke="#000" stroke-width="0.96" fill="#000" />
<circle cx="1024.2" cy="14.4" r="0.9" fill="#000"/>
<g transform="translate(451.9,509.9) rotate(-34)"><text x="0" y="0" font-family="Liberation Sans, sans-serif" font-weight="bold" font-size="102" fill="none" stroke="#8c8c8c" stroke-width="0.8">UMG</text></g>
</svg>
</body></html>
